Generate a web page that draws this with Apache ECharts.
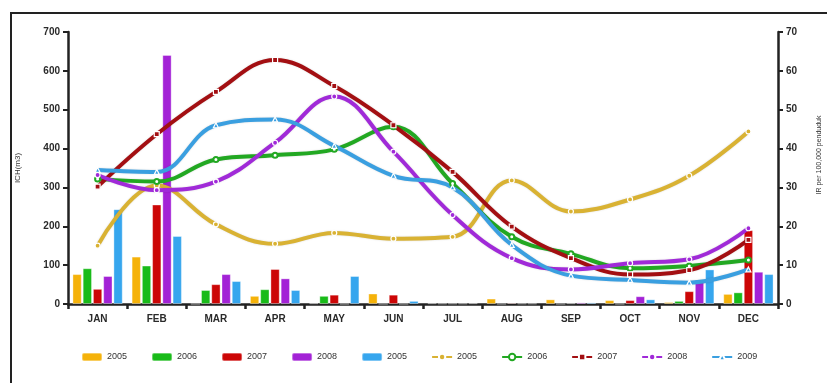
<!DOCTYPE html>
<html>
<head>
<meta charset="utf-8">
<script src="https://cdn.jsdelivr.net/npm/echarts@6/dist/echarts.min.js"></script>
<style>
  html, body { margin: 0; padding: 0; background: #fff; }
  #chart_1 { width: 827px; height: 383px; }
</style>
</head>
<body>
<div id="chart_1"></div>
<script>
// 月份
var months = ['JAN', 'FEB', 'MAR', 'APR', 'MAY', 'JUN', 'JUL', 'AUG', 'SEP', 'OCT', 'NOV', 'DEC'];

// ICH(m3) 柱状数据
var ich2005 = [77, 122, 0, 21, 2, 27, 2, 14, 12, 10, 5, 26];
var ich2006 = [92, 99, 36, 38, 21, 0, 1, 0, 0, 0, 8, 30];
var ich2007 = [39, 256, 51, 90, 24, 24, 1, 3, 2, 10, 33, 190];
var ich2008 = [72, 641, 77, 66, 0, 0, 1, 1, 4, 20, 62, 83];
var ich2009 = [244, 175, 59, 36, 72, 8, 2, 1, 4, 12, 89, 77];

// IR per 100,000 penduduk 折线数据
var ir2005 = [15, 30.5, 20.5, 15.5, 18.3, 16.8, 17.3, 31.8, 23.8, 26.9, 33, 44.4];
var ir2006 = [32.2, 31.5, 37.2, 38.3, 39.8, 45.6, 31, 17.3, 12.9, 9.2, 9.8, 11.3];
var ir2007 = [30.2, 43.7, 54.6, 62.8, 56.1, 46, 34, 19.9, 11.8, 7.6, 8.7, 16.5];
var ir2008 = [33.2, 29.3, 31.5, 41.5, 53.4, 39.2, 22.9, 11.8, 8.9, 10.5, 11.5, 19.5];
var ir2009 = [34.5, 34, 46, 47.5, 40.7, 33, 30, 15.2, 7.3, 6.2, 5.5, 8.9];

// 图例显示文字 (原图蓝色柱子写的是 2005)
var legendLabels = {
    'ICH 2005': '2005', 'ICH 2006': '2006', 'ICH 2007': '2007', 'ICH 2008': '2008', 'ICH 2009': '2005',
    'IR 2005': '2005', 'IR 2006': '2006', 'IR 2007': '2007', 'IR 2008': '2008', 'IR 2009': '2009'
};

var barColors = ['#f5b20a', '#19bb19', '#cc0606', '#a322d6', '#36a6ee'];
var lineColors = ['#d9b233', '#22a822', '#a30f12', '#a02ad8', '#3a9fe0'];
var lineSymbols = ['circle', 'emptyCircle', 'rect', 'circle', 'triangle'];

var myChart = echarts.init(document.getElementById('chart_1'));

function barSeries(name, data, idx) {
    return {
        name: name,
        type: 'bar',
        yAxisIndex: 0,
        data: data,
        barGap: '10%',
        barCategoryGap: '15%',
        itemStyle: {
            color: barColors[idx],
            borderColor: 'rgba(255,255,255,0.35)',
            borderWidth: 1
        },
        z: 2
    };
}

function lineSeries(name, data, idx) {
    return {
        name: name,
        type: 'line',
        yAxisIndex: 1,
        data: data,
        smooth: 0.4,
        symbol: lineSymbols[idx],
        symbolSize: 5,
        showAllSymbol: true,
        lineStyle: {
            color: lineColors[idx],
            width: 4,
            shadowColor: 'rgba(0,0,0,0.15)',
            shadowBlur: 2
        },
        itemStyle: {
            color: lineColors[idx],
            borderColor: '#fff',
            borderWidth: 1.2
        },
        z: 5
    };
}

var axisFont = {
    color: '#2a2a2a',
    fontWeight: 'bold',
    fontSize: 10,
    fontFamily: 'Liberation Sans, Arial, sans-serif'
};

var option = {
    animation: false,
    backgroundColor: '#fff',
    graphic: [
        {
            // 外边框
            type: 'rect',
            shape: { x: 11, y: 13, width: 840, height: 400 },
            style: { fill: 'none', stroke: '#222', lineWidth: 2 },
            silent: true
        }
    ],
    grid: { left: 68, right: 49, top: 32, bottom: 79, outerBoundsMode: 'none', containLabel: false },
    legend: {
        left: 76,
        top: 347,
        itemWidth: 20,
        itemHeight: 8,
        itemGap: 24,
        textStyle: { color: '#333', fontSize: 9, fontFamily: 'Liberation Sans Narrow, Liberation Sans, Arial, sans-serif' },
        formatter: function (name) {
            return legendLabels[name];
        },
        data: [
            { name: 'ICH 2005', icon: 'roundRect' },
            { name: 'ICH 2006', icon: 'roundRect' },
            { name: 'ICH 2007', icon: 'roundRect' },
            { name: 'ICH 2008', icon: 'roundRect' },
            { name: 'ICH 2009', icon: 'roundRect' },
            'IR 2005', 'IR 2006', 'IR 2007', 'IR 2008', 'IR 2009'
        ]
    },
    xAxis: {
        type: 'category',
        data: months,
        boundaryGap: true,
        axisLine: { lineStyle: { color: '#222', width: 2.5 } },
        axisTick: { show: true, length: 5, lineStyle: { color: '#222', width: 2.5 } },
        axisLabel: { margin: 10, fontSize: 10, fontWeight: 'bold', color: '#2a2a2a', fontFamily: 'Liberation Sans, Arial, sans-serif' },
        splitLine: { show: false }
    },
    yAxis: [
        {
            type: 'value',
            min: 0,
            max: 700,
            interval: 100,
            name: 'ICH(m3)',
            nameLocation: 'middle',
            nameRotate: 90,
            nameGap: 46,
            nameTextStyle: { fontSize: 8, color: '#333', fontFamily: 'Liberation Sans, Arial, sans-serif' },
            axisLine: { show: true, lineStyle: { color: '#222', width: 2.5 } },
            axisTick: { show: true, length: 5, lineStyle: { color: '#222', width: 2 } },
            axisLabel: axisFont,
            splitLine: { show: false }
        },
        {
            type: 'value',
            min: 0,
            max: 70,
            interval: 10,
            position: 'right',
            name: 'IR per 100,000 penduduk',
            nameLocation: 'middle',
            nameRotate: 90,
            nameGap: 38,
            nameTextStyle: { fontSize: 7, color: '#333', padding: [0, 0, 0, 26], fontFamily: 'Liberation Sans, Arial, sans-serif' },
            axisLine: { show: true, lineStyle: { color: '#222', width: 2.5 } },
            axisTick: { show: true, length: 5, lineStyle: { color: '#222', width: 2 } },
            axisLabel: axisFont,
            splitLine: { show: false }
        }
    ],
    series: [
        barSeries('ICH 2005', ich2005, 0),
        barSeries('ICH 2006', ich2006, 1),
        barSeries('ICH 2007', ich2007, 2),
        barSeries('ICH 2008', ich2008, 3),
        barSeries('ICH 2009', ich2009, 4),
        lineSeries('IR 2005', ir2005, 0),
        lineSeries('IR 2006', ir2006, 1),
        lineSeries('IR 2007', ir2007, 2),
        lineSeries('IR 2008', ir2008, 3),
        lineSeries('IR 2009', ir2009, 4)
    ]
};

myChart.setOption(option);

window.addEventListener("resize", function () {
    myChart.resize();
});
</script>
</body>
</html>
